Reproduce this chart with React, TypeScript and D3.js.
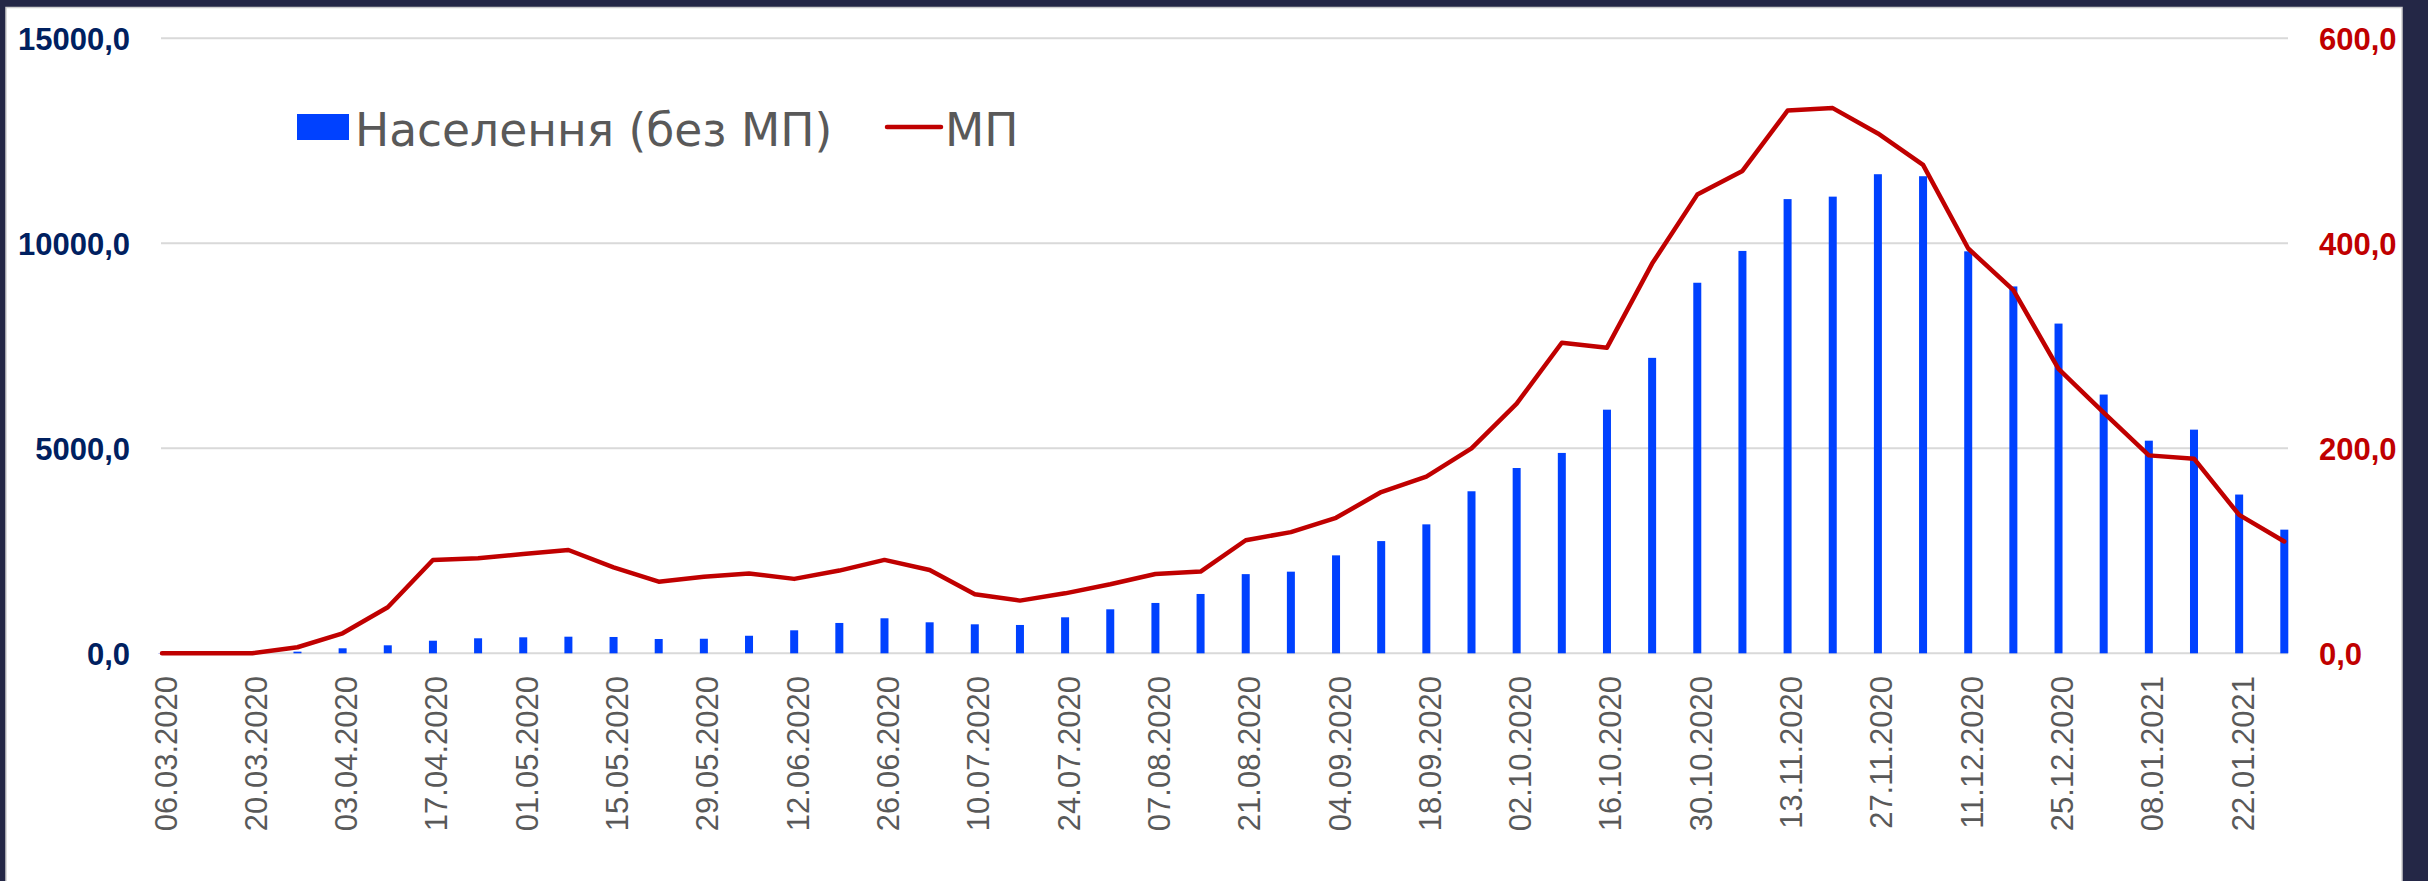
import React from "react";
import * as d3 from "d3";

const dates: string[] = [
  "06.03.2020", "13.03.2020", "20.03.2020", "27.03.2020", "03.04.2020", "10.04.2020",
  "17.04.2020", "24.04.2020", "01.05.2020", "08.05.2020", "15.05.2020", "22.05.2020",
  "29.05.2020", "05.06.2020", "12.06.2020", "19.06.2020", "26.06.2020", "03.07.2020",
  "10.07.2020", "17.07.2020", "24.07.2020", "31.07.2020", "07.08.2020", "14.08.2020",
  "21.08.2020", "28.08.2020", "04.09.2020", "11.09.2020", "18.09.2020", "25.09.2020",
  "02.10.2020", "09.10.2020", "16.10.2020", "23.10.2020", "30.10.2020", "06.11.2020",
  "13.11.2020", "20.11.2020", "27.11.2020", "04.12.2020", "11.12.2020", "18.12.2020",
  "25.12.2020", "01.01.2021", "08.01.2021", "15.01.2021", "22.01.2021", "29.01.2021",
];

const population: number[] = [
  5, 0, 5, 40, 122, 195, 307, 366, 390, 405, 398, 349,
  355, 428, 561, 740, 854, 756, 707, 691, 878, 1073, 1228, 1447,
  1931, 1991, 2389, 2737, 3145, 3952, 4519, 4887, 5942, 7206, 9038, 9814,
  11078, 11138, 11685, 11636, 9804, 8948, 8042, 6311, 5186, 5455, 3872, 3016,
];

const mp: number[] = [
  0, 0, 0, 5.9, 19.5, 44.9, 91, 92.7, 96.9, 100.8, 83.9, 69.9,
  74.7, 77.8, 72.6, 80.7, 91.1, 81.3, 57.6, 51.4, 58.5, 67.3, 77.4, 79.7,
  110.3, 118.2, 132.2, 157.3, 172.4, 199.9, 243.6, 303, 298.2, 380.2, 447.5, 470.6,
  529.5, 531.9, 507.2, 476.5, 394.9, 354.3, 277.5, 234.9, 193.1, 189.9, 135, 109.1,
];

const leftTicks: number[] = [0, 5000, 10000, 15000];
const rightTicks: number[] = [0, 200, 400, 600];

const seriesNames = { bars: "Населення (без МП)", line: "МП" };

const W = 2428;
const H = 881;
const BLUE = "#0041ff";
const RED = "#c00000";
const NAVY = "#002060";
const GRAY = "#595959";

const fmt = (v: number) => d3.format(".1f")(v).replace(".", ",");

export default function App() {
  const plotLeft = 161;
  const plotRight = 2288;
  const yTop = 38.3;
  const yBottom = 653.3;

  const x = d3
    .scalePoint<number>()
    .domain(d3.range(dates.length))
    .range([162, 2284.3]);
  const yL = d3.scaleLinear().domain([0, 15000]).range([yBottom, yTop]);
  const yR = d3.scaleLinear().domain([0, 600]).range([yBottom, yTop]);

  const line = d3
    .line<number>()
    .x((_, i) => x(i) as number)
    .y((d) => yR(d));

  const barW = 8;

  return (
    <svg
      width={W}
      height={H}
      style={{ position: "absolute", left: 0, top: 0, display: "block" }}
    >
      <rect x={0} y={0} width={W} height={H} fill="#242746" />
      <rect x={6} y={7.5} width={2396} height={H} fill="#ffffff" stroke="#d0d0d0" strokeWidth={1.5} />

      {/* gridlines */}
      {leftTicks.map((t) => (
        <line
          key={"g" + t}
          x1={plotLeft}
          x2={plotRight}
          y1={yL(t)}
          y2={yL(t)}
          stroke="#d9d9d9"
          strokeWidth={2}
        />
      ))}

      {/* left axis labels */}
      {leftTicks.map((t) => (
        <text
          key={"l" + t}
          x={130}
          y={yL(t) + 1}
          textAnchor="end"
          dominantBaseline="central"
          fontFamily="'Liberation Sans', Arial, sans-serif"
          fontWeight="bold"
          fontSize={31}
          fill={NAVY}
        >
          {fmt(t)}
        </text>
      ))}

      {/* right axis labels */}
      {rightTicks.map((t) => (
        <text
          key={"r" + t}
          x={2319}
          y={yR(t) + 1}
          textAnchor="start"
          dominantBaseline="central"
          fontFamily="'Liberation Sans', Arial, sans-serif"
          fontWeight="bold"
          fontSize={31}
          fill={RED}
        >
          {fmt(t)}
        </text>
      ))}

      {/* bars */}
      {population.map((v, i) => (
        <rect
          key={"b" + i}
          x={(x(i) as number) - barW / 2}
          y={yL(v)}
          width={barW}
          height={Math.max(0, yL(0) - yL(v))}
          fill={BLUE}
        />
      ))}

      {/* line */}
      <path
        d={line(mp) || ""}
        fill="none"
        stroke={RED}
        strokeWidth={4.5}
        strokeLinejoin="round"
        strokeLinecap="round"
      />

      {/* x labels */}
      {dates.map((d, i) =>
        i % 2 === 0 ? (
          <text
            key={"x" + i}
            transform={`translate(${(x(i) as number) + 4},676) rotate(-90)`}
            textAnchor="end"
            dominantBaseline="central"
            fontFamily="'Liberation Sans', Arial, sans-serif"
            fontSize={31}
            fill={GRAY}
          >
            {d}
          </text>
        ) : null
      )}

      {/* legend */}
      <rect x={297} y={114} width={52} height={26} fill={BLUE} />
      <text
        x={355}
        y={146}
        fontFamily="'DejaVu Sans', sans-serif"
        fontSize={45.5}
        fill={GRAY}
      >
        {seriesNames.bars}
      </text>
      <line x1={887} x2={941} y1={127} y2={127} stroke={RED} strokeWidth={4.5} strokeLinecap="round" />
      <text
        x={945}
        y={146}
        fontFamily="'DejaVu Sans', sans-serif"
        fontSize={45.5}
        fill={GRAY}
      >
        {seriesNames.line}
      </text>
    </svg>
  );
}
